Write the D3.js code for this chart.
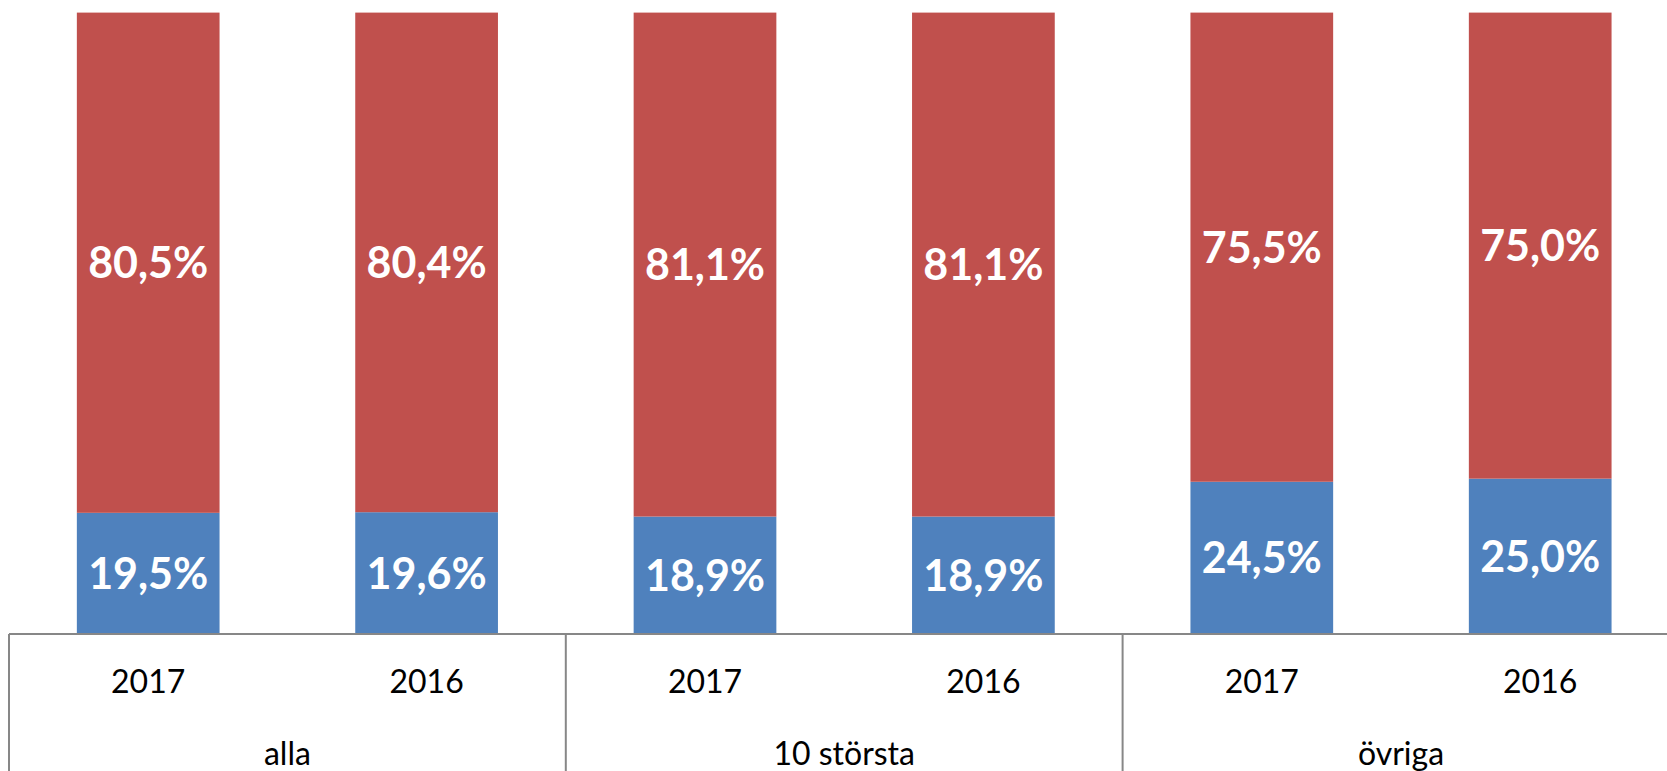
<!DOCTYPE html>
<html><head><meta charset="utf-8">
<script src="https://cdn.jsdelivr.net/npm/d3@7"></script>
<style>html,body{margin:0;padding:0;background:#fff;overflow:hidden}</style>
</head><body>
<svg id="c" width="1667" height="771"></svg>
<script>
const groups = ["alla", "10 största", "övriga"];
const years = ["2017", "2016"];
const blueValues = [19.5, 19.6, 18.9, 18.9, 24.5, 25.0];
const redValues = [80.5, 80.4, 81.1, 81.1, 75.5, 75.0];

(function () {
const svg = d3.select("#c");
const font = "Lato, 'Open Sans', sans-serif";
const plotLeft = 9, plotRight = 1679.4, plotTop = 12.6, axisY = 634;

const items = [];
groups.forEach((g, gi) => years.forEach((yr, yi) => items.push({g, yr, i: gi * years.length + yi})));

const x = d3.scaleBand().domain(items.map(d => d.i)).range([plotLeft, plotRight])
  .paddingInner(0.4874).paddingOuter(0.2437);
const gx = d3.scaleBand().domain(groups).range([plotLeft, plotRight]);
const y = d3.scaleLinear().domain([0, 100]).range([axisY, plotTop]);

const fmt = v => v.toFixed(1).replace(".", ",") + "%";

const bars = svg.append("g");
items.forEach(d => {
  const b = blueValues[d.i], r = redValues[d.i];
  bars.append("rect").attr("x", x(d.i)).attr("width", x.bandwidth())
    .attr("y", y(b)).attr("height", y(0) - y(b)).attr("fill", "#4F81BD");
  bars.append("rect").attr("x", x(d.i)).attr("width", x.bandwidth())
    .attr("y", y(b + r)).attr("height", y(b) - y(b + r)).attr("fill", "#C0504D");
  const cx = x(d.i) + x.bandwidth() / 2;
  const fs = 43, capHalf = 0.717 * fs / 2;
  bars.append("text").attr("x", cx).attr("y", (y(0) + y(b)) / 2 + capHalf)
    .attr("text-anchor", "middle").attr("font-family", font).attr("font-weight", "bold")
    .attr("font-size", fs).attr("fill", "#fff").text(fmt(b));
  bars.append("text").attr("x", cx).attr("y", (y(b) + y(b + r)) / 2 + capHalf)
    .attr("text-anchor", "middle").attr("font-family", font).attr("font-weight", "bold")
    .attr("font-size", fs).attr("fill", "#fff").text(fmt(r));
});

const ax = svg.append("g").attr("stroke", "#878787").attr("stroke-width", 2);
ax.append("line").attr("x1", plotLeft).attr("x2", plotRight).attr("y1", axisY).attr("y2", axisY);
groups.forEach(g => {
  ax.append("line").attr("x1", gx(g)).attr("x2", gx(g)).attr("y1", axisY).attr("y2", 780);
});
ax.append("line").attr("x1", plotRight).attr("x2", plotRight).attr("y1", axisY).attr("y2", 780);

items.forEach(d => {
  svg.append("text").attr("x", x(d.i) + x.bandwidth() / 2).attr("y", 692.5)
    .attr("text-anchor", "middle").attr("font-family", font).attr("font-size", 32)
    .attr("fill", "#000").text(d.yr);
});
groups.forEach(g => {
  svg.append("text").attr("x", gx(g) + gx.bandwidth() / 2).attr("y", 765)
    .attr("text-anchor", "middle").attr("font-family", font).attr("font-size", 32)
    .attr("fill", "#000").text(g);
});
})();
</script>
</body></html>
